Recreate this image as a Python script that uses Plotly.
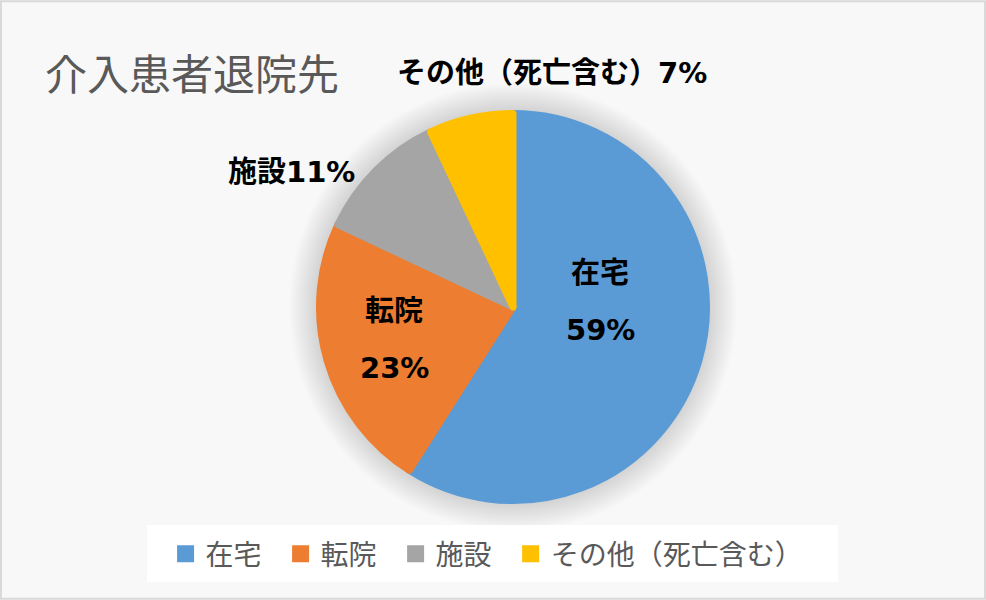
import plotly.graph_objects as go

# データ
labels = ["在宅", "転院", "施設", "その他（死亡含む）"]
values = [59, 23, 11, 7]
colors = ["#5B9BD5", "#ED7D31", "#A5A5A5", "#FFC000"]
title_text = "介入患者退院先"

label_font = "DejaVu Sans, Noto Sans CJK JP, sans-serif"
text_font = "Noto Sans CJK JP, Noto Sans, sans-serif"

W, H = 986, 600
cx, cy, r = 513, 307, 197
edge = 7  # 凡例の四角を大きくするための線幅

# 凡例の間隔をあけるため末尾に空白を付ける（最後以外）
legend_names = [l + "\u2002" if i < len(labels) - 1 else l for i, l in enumerate(labels)]

fig = go.Figure()
fig.add_trace(go.Pie(
    labels=legend_names,
    values=values,
    marker=dict(colors=colors, line=dict(color=colors, width=edge)),
    sort=False,
    direction="clockwise",
    rotation=0,
    textinfo="none",
    hoverinfo="label+percent",
    domain=dict(x=[(cx - r + edge / 2) / W, (cx + r - edge / 2) / W],
                y=[1 - (cy + r - edge / 2) / H, 1 - (cy - r + edge / 2) / H]),
    showlegend=True,
))

total = sum(values)
pct = [f"{round(v / total * 100)}%" for v in values]


def px(x, y):
    return x / W, 1 - y / H


lab_style = dict(family=label_font, size=29, color="#000000", weight="bold")
annos = []
# 内側ラベル（ラベルと割合を2段）
for i, (lx, ly, vy) in [(0, (600, 273, 330)), (1, (394, 311, 368))]:
    x, y = px(lx, ly)
    annos.append(dict(x=x, y=y, text=labels[i], font=lab_style))
    x, y = px(lx, vy)
    annos.append(dict(x=x, y=y, text=pct[i], font=lab_style))
# 外側ラベル
for i, (lx, ly) in [(2, (291, 172)), (3, (552, 73))]:
    x, y = px(lx, ly)
    annos.append(dict(x=x, y=y, text=labels[i] + pct[i], font=lab_style))
for a in annos:
    a.update(xref="paper", yref="paper", showarrow=False, xanchor="center", yanchor="middle")

# 円の影（薄い同心円を重ねる）
shapes = []
for k in range(1, 19):
    R = r + k * 1.5
    shapes.append(dict(type="circle", xref="paper", yref="paper",
                       x0=(cx - R) / W, x1=(cx + R) / W,
                       y0=1 - (cy + R) / H, y1=1 - (cy - R) / H,
                       fillcolor="rgba(0,0,0,0.007)", line=dict(width=0), layer="below"))
shapes += [
    dict(type="rect", xref="paper", yref="paper",
         x0=147 / W, x1=838 / W, y0=1 - 582 / H, y1=1 - 525 / H,
         fillcolor="#FFFFFF", line=dict(width=0), layer="below"),
    dict(type="rect", xref="paper", yref="paper",
         x0=0.001, x1=0.999, y0=0.002, y1=0.998,
         fillcolor="rgba(0,0,0,0)", line=dict(color="#D9D9D9", width=2)),
]

fig.update_layout(
    width=W, height=H,
    margin=dict(l=0, r=0, t=0, b=0),
    paper_bgcolor="#F8F8F8",
    plot_bgcolor="#F8F8F8",
    title=dict(
        text=title_text,
        x=45 / W, xanchor="left",
        y=1 - 75 / H, yanchor="middle",
        font=dict(family=text_font, size=42, color="#595959"),
    ),
    legend=dict(
        orientation="h",
        x=0.494, xanchor="center",
        y=1 - 554 / H, yanchor="middle",
        font=dict(family=text_font, size=28, color="#595959"),
        bgcolor="rgba(0,0,0,0)",
        itemclick=False,
    ),
    annotations=annos,
    shapes=shapes,
)

fig.write_html("out.html", config={"displayModeBar": False},
               post_script="document.body.style.margin='0';")
